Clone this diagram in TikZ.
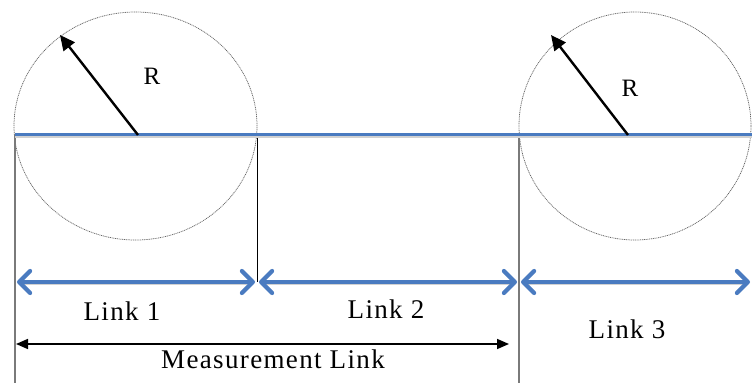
\documentclass[tikz,border=0pt]{standalone}
\usepackage{fontspec}
\setmainfont{Liberation Serif}
\usetikzlibrary{arrows.meta}
\definecolor{linkblue}{HTML}{4A7BC0}
\definecolor{guidegray}{HTML}{7A7A7A}
\tikzset{
  circ/.style={draw=black!60, line width=0.75pt, dash pattern=on 1pt off 0.8pt},
  track/.style={draw=linkblue, line width=3pt},
  shade/.style={draw=black!18, line width=2pt},
  radius/.style={draw=black, line width=2.4pt, -{Triangle[length=15pt, width=14pt]}},
  span/.style={draw=linkblue, line width=3.6pt, line cap=round,
    {Straight Barb[length=11pt, width=22pt, line width=4.2pt, round]}-{Straight Barb[length=11pt, width=22pt, line width=4.2pt, round]}},
  measure/.style={draw=black, line width=1.6pt, {Triangle[length=12pt, width=10pt]}-{Triangle[length=12pt, width=10pt]}},
  lbl/.style={font=\fontsize{27}{30}\selectfont\addfontfeature{LetterSpace=5}, inner sep=0pt},
  rlbl/.style={font=\fontsize{25}{28}\selectfont, inner sep=0pt},
}
\begin{document}
\begin{tikzpicture}[x=1pt, y=1pt]
\useasboundingbox (0,0) rectangle (752,383);

% wheel outlines
\draw[circ] (135.5,257) ellipse [x radius=121.5, y radius=114];
\draw[circ] (635,257) ellipse [x radius=116, y radius=114];

% key points
\coordinate (t0) at (15,248);
\coordinate (t1) at (257,248);
\coordinate (t2) at (519,248);
\coordinate (tend) at (752,248);
\coordinate (b0) at (15,0);
\coordinate (b1) at (257,101);
\coordinate (b2) at (519,0);

% vertical guides
\draw[guidegray, line width=2pt] (t0) -- (b0);
\draw[black, line width=1pt] (t1) -- (b1);
\draw[guidegray, line width=2.4pt] (t2) -- (b2);

% track with soft shadow
\draw[shade] (15,245.5) -- (752,245.5);
\draw[track] (t0) -- (tend);

% radius arrows
\coordinate (c1) at (138,248);
\coordinate (r1) at (60,348);
\coordinate (c2) at (628,248);
\coordinate (r2) at (551,348);
\draw[radius] (c1) -- (r1);
\draw[radius] (c2) -- (r2);
\node[rlbl] (R1) at (152,307) {R};
\node[rlbl] (R2) at (630,295) {R};

% link spans
\coordinate (l0) at (17,101);
\coordinate (l1a) at (255,101);
\coordinate (l1b) at (259,101);
\coordinate (l2a) at (517,101);
\coordinate (l2b) at (521,101);
\coordinate (l3) at (750,101);
\draw[shade] (19,98.5) -- (253,98.5);
\draw[shade] (261,98.5) -- (515,98.5);
\draw[shade] (523,98.5) -- (748,98.5);
\draw[span] (l0) -- (l1a);
\draw[span] (l1b) -- (l2a);
\draw[span] (l2b) -- (l3);

\node[lbl] (L1) at (122,72) {Link 1};
\node[lbl] (L2) at (386,74) {Link 2};
\node[lbl] (L3) at (627,54) {Link 3};

% measurement span
\coordinate (m0) at (16,39);
\coordinate (m1) at (509,39);
\draw[measure] (m0) -- (m1);
\node[lbl] (ML) at (273,24) {Measurement Link};
\end{tikzpicture}
\end{document}
